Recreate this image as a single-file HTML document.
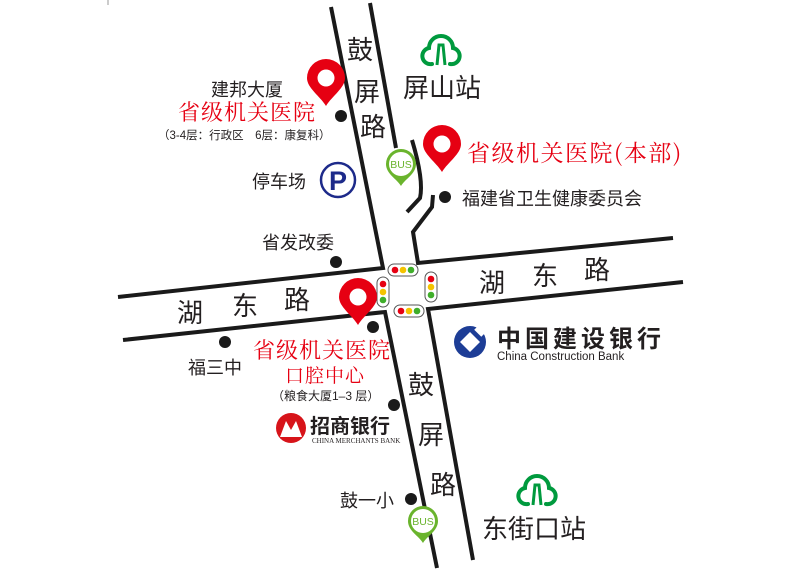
<!DOCTYPE html>
<html><head><meta charset="utf-8"><style>
html,body{margin:0;padding:0;background:#fff;}
svg{display:block;}
text{font-family:"Liberation Sans","Noto Sans CJK SC",sans-serif;}
.k{fill:#231f20;}
.r{fill:#e60012;font-family:"Noto Serif CJK SC","Liberation Serif",serif;}
</style></head><body>
<svg width="810" height="570" viewBox="0 0 810 570" xmlns="http://www.w3.org/2000/svg">
<defs>
<g id="tree">
<path d="M-9 17 A8 8 0 0 1 -12 1 A11 11 0 0 1 12 1 A8 8 0 0 1 9 17" fill="none" stroke="#009a3e" stroke-width="4" stroke-linecap="round"/>
<path d="M-4 18 L-2 -2 L2 -2 L4 18" fill="none" stroke="#009a3e" stroke-width="3"/>
</g>
<g id="pin">
<path d="M0 26 C-6 16 -19 8 -19 -2 A19 19 0 0 1 19 -2 C19 8 6 16 0 26 Z" fill="#e60012"/>
<circle cx="0" cy="-2" r="8.5" fill="#fff"/>
</g>
<g id="bus">
<path d="M0 22 C-4 15 -15 10 -15 0 A15 15 0 0 1 15 0 C15 10 4 15 0 22 Z" fill="#6ab42d"/>
<circle cx="0" cy="0" r="12" fill="#fff"/>
<text x="0" y="4" font-size="10.5" fill="#6ab42d" text-anchor="middle" style="font-family:'Liberation Sans',sans-serif">BUS</text>
</g>
<g id="tlh"><rect x="-15" y="-6" width="30" height="12" rx="6" fill="#fff" stroke="#555" stroke-width="1"/><circle cx="-8" cy="0" r="3.3" fill="#e60012"/><circle cx="0" cy="0" r="3.3" fill="#f4c300"/><circle cx="8" cy="0" r="3.3" fill="#3fae2a"/></g>
<g id="tlv"><rect x="-6" y="-15" width="12" height="30" rx="6" fill="#fff" stroke="#555" stroke-width="1"/><circle cx="0" cy="-8" r="3.3" fill="#e60012"/><circle cx="0" cy="0" r="3.3" fill="#f4c300"/><circle cx="0" cy="8" r="3.3" fill="#3fae2a"/></g>
</defs>
<line x1="108" y1="0" x2="108" y2="5" stroke="#999" stroke-width="1"/>
<g fill="none" stroke="#1a1a1a" stroke-width="4" stroke-linejoin="miter">
<polyline points="331,7 383,268 118,297"/>
<line x1="370" y1="3" x2="396" y2="148"/>
<path d="M412 140 Q424 180 420 198 L407 212"/>
<polyline points="433,195 432,207 413,232 418,263 673,238"/>
<polyline points="123,340 385,312 437,568"/>
<polyline points="683,282 428,309 473,560"/>
</g>
<use href="#tlh" x="403" y="270"/>
<use href="#tlv" x="383" y="292"/>
<use href="#tlv" x="431" y="287"/>
<use href="#tlh" x="409" y="311"/>
<use href="#tree" x="441" y="47"/>
<use href="#tree" x="537" y="487"/>
<text x="403" y="97" font-size="26" class="k">屏山站</text>
<text x="482" y="538" font-size="26" class="k">东街口站</text>
<text x="347" y="59" font-size="26" class="k">鼓</text>
<text x="354" y="101" font-size="26" class="k">屏</text>
<text x="360" y="136" font-size="26" class="k">路</text>
<text x="408" y="394" font-size="26" class="k">鼓</text>
<text x="418" y="444" font-size="26" class="k">屏</text>
<text x="430" y="494" font-size="26" class="k">路</text>
<text x="177" y="322" font-size="26" class="k">湖</text>
<text x="232" y="315" font-size="26" class="k">东</text>
<text x="284" y="309" font-size="26" class="k">路</text>
<text x="479" y="292" font-size="26" class="k">湖</text>
<text x="532" y="285" font-size="26" class="k">东</text>
<text x="584" y="279" font-size="26" class="k">路</text>
<use href="#pin" x="326" y="80"/>
<circle cx="341" cy="116" r="6" fill="#1a1a1a"/>
<text x="247" y="96" font-size="18" class="k" text-anchor="middle">建邦大厦</text>
<text x="178" y="120" font-size="22" class="r" letter-spacing="1">省级机关医院</text>
<text x="158" y="139" font-size="11.5" class="k">（3-4层：行政区　6层：康复科）</text>
<text x="252" y="188" font-size="18" class="k">停车场</text>
<circle cx="338" cy="180" r="17" fill="#fff" stroke="#1d2a8a" stroke-width="2.5"/>
<text x="338" y="190" font-size="27" font-weight="bold" fill="#1d2a8a" text-anchor="middle">P</text>
<text x="262" y="249" font-size="18" class="k">省发改委</text>
<circle cx="336" cy="262" r="6" fill="#1a1a1a"/>
<use href="#bus" x="401" y="164"/>
<use href="#pin" x="442" y="146"/>
<text x="467" y="161" font-size="23" class="r" letter-spacing="1.5">省级机关医院(本部)</text>
<circle cx="445" cy="197" r="6" fill="#1a1a1a"/>
<text x="462" y="205" font-size="18" class="k">福建省卫生健康委员会</text>
<use href="#pin" x="358" y="299"/>
<circle cx="373" cy="327" r="6" fill="#1a1a1a"/>
<circle cx="225" cy="342" r="6" fill="#1a1a1a"/>
<text x="188" y="374" font-size="18" class="k">福三中</text>
<text x="253" y="358" font-size="22" class="r" letter-spacing="1">省级机关医院</text>
<text x="285" y="382" font-size="19" class="r" letter-spacing="1">口腔中心</text>
<text x="272" y="400" font-size="12" class="k">（粮食大厦1–3 层）</text>
<circle cx="394" cy="405" r="6" fill="#1a1a1a"/>
<circle cx="291" cy="428" r="15" fill="#d7141a"/>
<path d="M280 437 L286 421 L291 430 L296 421 L302 437 Z" fill="#fff"/>
<text x="310" y="433" font-size="20" font-weight="bold" class="k">招商银行</text>
<text x="312" y="443" font-size="7" class="k" style="font-family:'Liberation Serif',serif">CHINA MERCHANTS BANK</text>
<circle cx="470" cy="342" r="16" fill="#1d3d96"/>
<path d="M470 332 L480 342 L470 352 L460 342 Z" fill="#fff"/>
<rect x="477" y="323" width="10" height="12" fill="#fff" transform="rotate(45 482 329)"/>
<text x="497" y="347" font-size="24" font-weight="bold" class="k" letter-spacing="4">中国建设银行</text>
<text x="497" y="360" font-size="11.5" class="k">China Construction Bank</text>
<text x="340" y="507" font-size="18" class="k">鼓一小</text>
<circle cx="411" cy="499" r="6" fill="#1a1a1a"/>
<use href="#bus" x="423" y="521"/>
</svg>
</body></html>
